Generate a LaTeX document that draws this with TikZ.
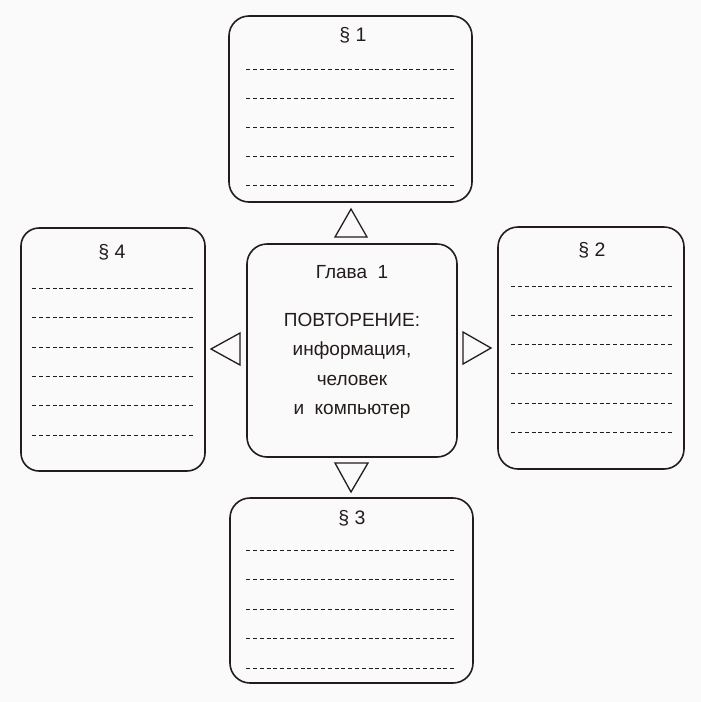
\documentclass[tikz,border=0pt]{standalone}
\usepackage{fontspec}
\setmainfont{Liberation Sans}
\usetikzlibrary{positioning}

\definecolor{ink}{HTML}{231C1A}
\definecolor{paper}{HTML}{FBFAFA}

\tikzset{
  parbox/.style={draw=ink, line width=1.6pt, rounded corners=20pt, inner sep=0pt},
  rule/.style={draw=ink, line width=0.8pt, dash pattern=on 4pt off 2.8pt},
  tri/.style={draw=ink, line width=1.3pt, line join=miter},
  head/.style={font=\fontsize{19.5}{21}\selectfont, text=ink, inner sep=0pt}
}

\begin{document}
\begin{tikzpicture}[x=1pt, y=-1pt]
\fill[paper] (0,0) rectangle (701,702);
\useasboundingbox (0,0) rectangle (701,702);

% the chapter in the middle
\node[parbox, minimum width=210pt, minimum height=213pt] (ch) at (352,350.5) {};
\node[head, font=\fontsize{19}{21}\selectfont] (chtitle) at (352,272) {Глава\ \ 1};
\node[head, align=center, font=\fontsize{19}{29.5}\selectfont] (chbody) at (352,366)
  {ПОВТОРЕНИЕ:\\информация,\\человек\\и\ \ компьютер};

% the four sections
\node[parbox, minimum width=243pt, minimum height=186pt] (p1) at (350.5,109) {};
\node[parbox, minimum width=186pt, minimum height=242pt] (p2) at (591,348) {};
\node[parbox, minimum width=243pt, minimum height=185pt] (p3) at (351.5,590.5) {};
\node[parbox, minimum width=184pt, minimum height=243pt, rounded corners=18pt] (p4) at (113,349.5) {};

\node[head] (t1) at (353,35) {§ 1};
\node[head] (t2) at (592,250) {§ 2};
\node[head] (t3) at (352,518) {§ 3};
\node[head] (t4) at (112,252) {§ 4};

% lines to write on
\foreach \k in {0,...,4} {
  \draw[rule] ([xshift=18pt, yshift=-54pt-29.1pt*\k]p1.north west) -- ([xshift=-17pt, yshift=-54pt-29.1pt*\k]p1.north east);
  \draw[rule] ([xshift=17pt, yshift=-53pt-29.5pt*\k]p3.north west) -- ([xshift=-18pt, yshift=-53pt-29.5pt*\k]p3.north east);
}
\foreach \k in {0,...,5} {
  \draw[rule] ([xshift=14pt, yshift=-60pt-29.2pt*\k]p2.north west) -- ([xshift=-11pt, yshift=-60pt-29.2pt*\k]p2.north east);
  \draw[rule] ([xshift=12pt, yshift=-61pt-29.4pt*\k]p4.north west) -- ([xshift=-12pt, yshift=-61pt-29.4pt*\k]p4.north east);
}

% pointers
\draw[tri] (335,237) -- (351,209) -- (367,237) -- cycle;
\draw[tri] (335,463) -- (351,492) -- (368,463) -- cycle;
\draw[tri] (240,333) -- (211,349) -- (240,365) -- cycle;
\draw[tri] (463,332) -- (491,348) -- (463,364) -- cycle;
\end{tikzpicture}
\end{document}
